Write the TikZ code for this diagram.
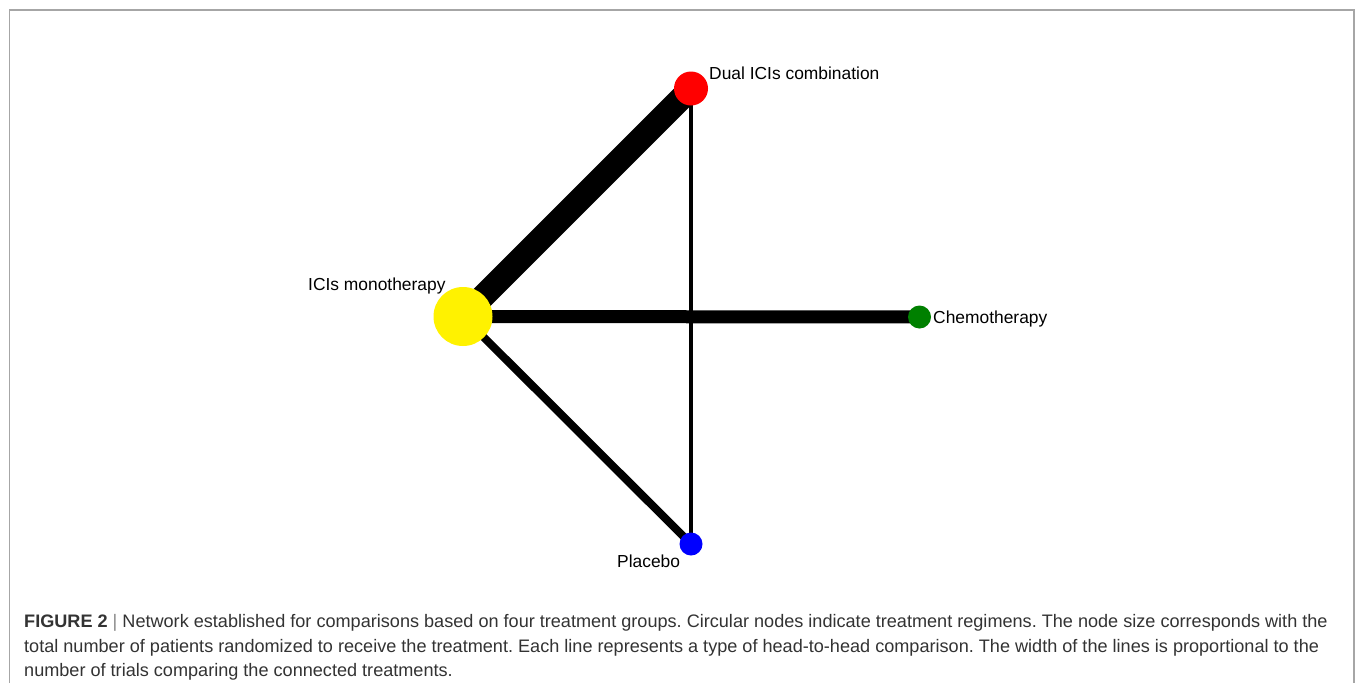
\documentclass[tikz,border=0pt]{standalone}
\usepackage{fontspec}
\setmainfont{Liberation Sans}
\usetikzlibrary{backgrounds}
\definecolor{framegray}{HTML}{A6A6A6}
\definecolor{chemgreen}{HTML}{008000}
\definecolor{captxt}{HTML}{333333}
\definecolor{bargray}{HTML}{888888}
\tikzset{
  frame/.style={draw=framegray, line width=1.5pt},
  tnode/.style={circle, draw=none, inner sep=0pt},
  lbl/.style={inner sep=0pt, font=\fontsize{17.4}{20}\selectfont, text=black},
  capline/.style={inner sep=0pt, anchor=base west, font=\fontsize{18.1}{22}\selectfont\frenchspacing, text=captxt},
  edge/.style={draw=black, line cap=butt}
}
\begin{document}
\begin{tikzpicture}[x=1pt,y=-1pt]
\useasboundingbox (0,0) rectangle (1355,683);

\node[tnode, fill=yellow, minimum size=59pt] (mono) at (463,316.5) {};
\node[tnode, fill=red, minimum size=34pt] (dual) at (691,88.5) {};
\node[tnode, fill=chemgreen, minimum size=23pt] (chemo) at (919.5,317) {};
\node[tnode, fill=blue, minimum size=23pt] (plac) at (691,544) {};

\begin{scope}[on background layer]
\fill[white] (0,0) rectangle (1355,683);
\draw[frame] (9.5,683) -- (9.5,10) -- (1354,10) -- (1354,683);
\draw[edge, line width=24pt] (mono.center) -- (dual.center);
\draw[edge, line width=13pt] (mono.center) -- (chemo.center);
\draw[edge, line width=8pt] (mono.center) -- (plac.center);
\draw[edge, line width=4.5pt] (dual.center) -- (plac.center);
\end{scope}

\node[lbl, anchor=base west] (ldual) at (709,79.5) {Dual ICIs combination};
\node[lbl, anchor=base west] (lmono) at (308,290) {ICIs monotherapy};
\node[lbl, anchor=base west] (lchemo) at (933,323.5) {Chemotherapy};
\node[lbl, anchor=base west] (lplac) at (617,567) {Placebo};

\node[capline] (cap1) at (24,627.5) {\textbf{FIGURE 2} {\color{bargray}|} Network established for comparisons based on four treatment groups. Circular nodes indicate treatment regimens. The node size corresponds with the};
\node[capline] (cap2) at (24,652) {total number of patients randomized to receive the treatment. Each line represents a type of head-to-head comparison. The width of the lines is proportional to the};
\node[capline] (cap3) at (24,676) {number of trials comparing the connected treatments.};
\end{tikzpicture}
\end{document}
